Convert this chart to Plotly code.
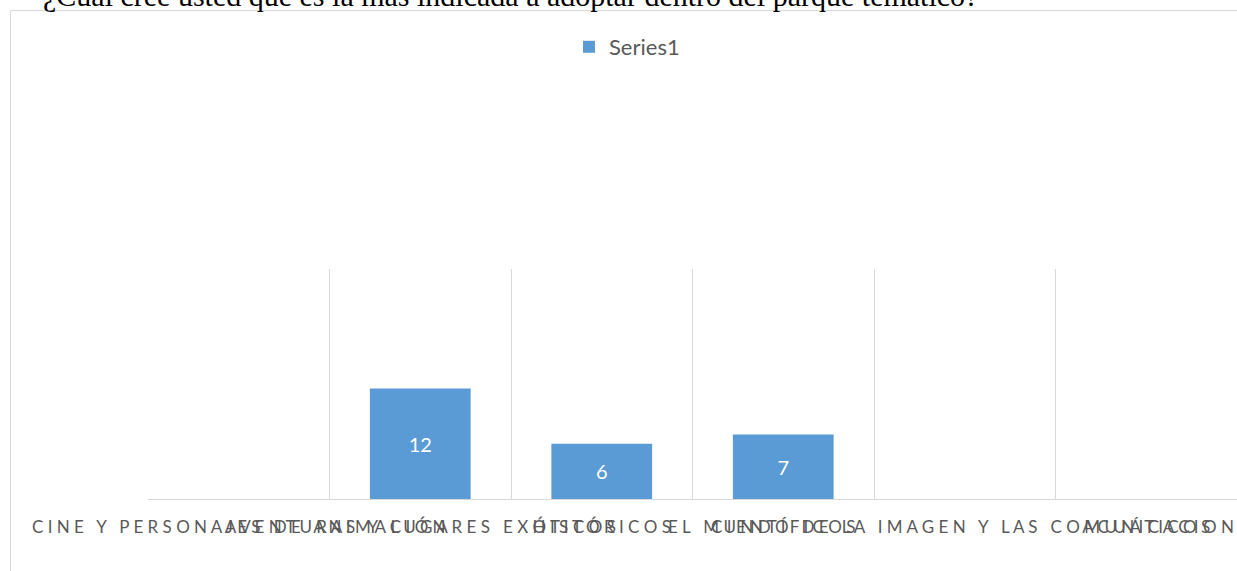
import plotly.graph_objects as go

categories = [
    "CINE Y PERSONAJES DE ANIMACIÓN",
    "AVENTURAS Y LUGARES EXÓTICOS",
    "HISTÓRICOS",
    "CIENTÍFICOS",
    "EL MUNDO DE LA IMAGEN Y LAS COMUNICACIONES",
    "ACUÁTICOS",
]
values = [0, 12, 6, 7, 0, 0]
series_name = "Series1"
title_text = "¿Cuál cree usted que es la más indicada a adoptar dentro del parque temático?"

W, H = 1237, 571
ML, MR, MT, MB = 148, 0, 269, 72
PW = W - ML - MR
PH = H - MT - MB


def spaced(s):
    # emulate Excel character spacing on the category labels
    return "\u00a0\u00a0\u00a0".join(" ".join(list(w)) for w in s.split(" "))


tick_text = [spaced(c) for c in categories]

fig = go.Figure()
fig.add_trace(go.Bar(
    x=categories,
    y=values,
    name=series_name,
    marker=dict(color="#5B9BD5", line=dict(width=0)),
    text=[str(v) if v else "" for v in values],
    textposition="inside",
    insidetextanchor="middle",
    textfont=dict(family="Lato, Open Sans, sans-serif", size=20, color="white"),
    showlegend=True,
))


def px_x(p):
    # window pixel -> paper x
    return (p - ML) / PW


def px_y(p):
    # window pixel -> paper y
    return (H - MB - p) / PH


fig.update_layout(
    width=W, height=H,
    margin=dict(l=ML, r=MR, t=MT, b=MB, pad=0, autoexpand=False),
    paper_bgcolor="white",
    plot_bgcolor="white",
    bargap=0.445,
    font=dict(family="Lato, Open Sans, sans-serif", color="#595959"),
    showlegend=True,
    legend=dict(
        orientation="h",
        xref="container", yref="container",
        x=627 / W, y=1 - 47 / H,
        xanchor="center", yanchor="middle",
        font=dict(size=22, color="#595959"),
        itemwidth=30,
        bgcolor="rgba(0,0,0,0)",
    ),
    xaxis=dict(
        type="category",
        automargin=False,
        tickmode="array",
        tickvals=categories,
        ticktext=tick_text,
        tickson="boundaries",
        showgrid=True,
        gridcolor="#d9d9d9",
        gridwidth=1,
        showline=True,
        linecolor="#d9d9d9",
        linewidth=1,
        ticks="",
        tickangle=0,
        tickfont=dict(family="Lato, Open Sans, sans-serif", size=17, color="#595959"),
        ticklabelstandoff=13,
        zeroline=False,
        fixedrange=True,
    ),
    yaxis=dict(
        range=[0, 25],
        automargin=False,
        showgrid=False,
        showticklabels=False,
        showline=False,
        zeroline=False,
        ticks="",
        fixedrange=True,
    ),
    shapes=[
        dict(type="line", xref="paper", yref="paper",
             x0=px_x(10.5), x1=px_x(10.5), y0=px_y(600), y1=px_y(10.5),
             line=dict(color="#d9d9d9", width=1), layer="below"),
        dict(type="line", xref="paper", yref="paper",
             x0=px_x(10.5), x1=px_x(1300), y0=px_y(10.5), y1=px_y(10.5),
             line=dict(color="#d9d9d9", width=1), layer="below"),
    ],
    annotations=[dict(
        text=title_text,
        xref="paper", yref="paper",
        x=px_x(41), y=px_y(14),
        xanchor="left", yanchor="bottom",
        showarrow=False,
        font=dict(family="Liberation Serif, Times New Roman, serif", size=30, color="black"),
    )],
)

fig.write_html(
    "out.html",
    config={"displayModeBar": False},
    post_script="document.body.style.margin='0';document.body.style.overflow='hidden';",
)
